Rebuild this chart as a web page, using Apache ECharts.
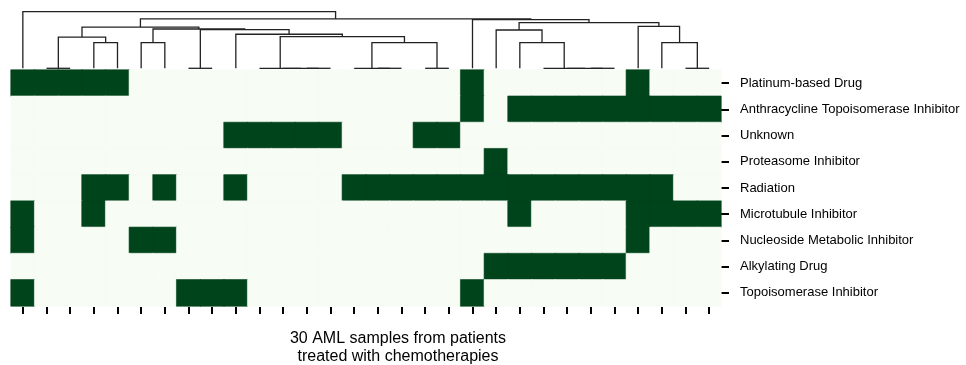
<!DOCTYPE html>
<html><head><meta charset="utf-8">
<script src="https://cdn.jsdelivr.net/npm/echarts@6/dist/echarts.min.js"></script>
<style>html,body{margin:0;padding:0;background:#fff}#c{width:966px;height:365px}</style>
</head><body><div id="c"></div>
<script>
// 30 sample columns (unlabelled in the figure)
const samples = Array.from({length: 30}, (_, i) => 'Sample ' + (i + 1));

// Treatment categories (top to bottom)
const drugs = [
  'Platinum-based Drug',
  'Anthracycline Topoisomerase Inhibitor',
  'Unknown',
  'Proteasome Inhibitor',
  'Radiation',
  'Microtubule Inhibitor',
  'Nucleoside Metabolic Inhibitor',
  'Alkylating Drug',
  'Topoisomerase Inhibitor'
];

// 1 = sample received this treatment
const platinum      = [1,1,1,1,1,0,0,0,0,0,0,0,0,0,0,0,0,0,0,1,0,0,0,0,0,0,1,0,0,0];
const anthracycline = [0,0,0,0,0,0,0,0,0,0,0,0,0,0,0,0,0,0,0,1,0,1,1,1,1,1,1,1,1,1];
const unknown       = [0,0,0,0,0,0,0,0,0,1,1,1,1,1,0,0,0,1,1,0,0,0,0,0,0,0,0,0,0,0];
const proteasome    = [0,0,0,0,0,0,0,0,0,0,0,0,0,0,0,0,0,0,0,0,1,0,0,0,0,0,0,0,0,0];
const radiation     = [0,0,0,1,1,0,1,0,0,1,0,0,0,0,1,1,1,1,1,1,1,1,1,1,1,1,1,1,0,0];
const microtubule   = [1,0,0,1,0,0,0,0,0,0,0,0,0,0,0,0,0,0,0,0,0,1,0,0,0,0,1,1,1,1];
const nucleoside    = [1,0,0,0,0,1,1,0,0,0,0,0,0,0,0,0,0,0,0,0,0,0,0,0,0,0,1,0,0,0];
const alkylating    = [0,0,0,0,0,0,0,0,0,0,0,0,0,0,0,0,0,0,0,0,1,1,1,1,1,1,0,0,0,0];
const topoisomerase = [1,0,0,0,0,0,0,1,1,1,0,0,0,0,0,0,0,0,0,1,0,0,0,0,0,0,0,0,0,0];
const treatment = [platinum, anthracycline, unknown, proteasome, radiation,
                   microtubule, nucleoside, alkylating, topoisomerase];

// Column dendrogram: [node, left child, right child, merge height]; numbers are leaf (column) indices
const linkage = [
  ['m1', 12, 13, 0], ['m2', 11, 'm1', 0], ['R', 10, 'm2', 0],
  ['M', 1, 2, 0], ['P', 7, 8, 0],
  ['w1', 15, 16, 0], ['W', 14, 'w1', 0], ['X', 17, 18, 0],
  ['h1', 24, 25, 0], ['h2', 23, 'h1', 0], ['H', 22, 'h2', 0],
  ['J', 28, 29, 0],
  ['N', 3, 4, 1.0], ['O', 5, 6, 1.0], ['S', 'W', 'X', 1.0],
  ['F', 21, 'H', 1.0], ['I', 27, 'J', 1.0],
  ['K', 'M', 'N', 1.22], ['Q', 'R', 'S', 1.234], ['T', 9, 'Q', 1.33],
  ['U', 'P', 'T', 1.51], ['L', 'O', 'U', 1.535], ['A', 'K', 'L', 1.61],
  ['D', 20, 'F', 1.496], ['E', 26, 'I', 1.64], ['C', 'D', 'E', 1.78],
  ['B', 19, 'C', 1.898], ['N1', 'A', 'B', 1.926], ['root', 0, 'N1', 2.21]
];

const DARK = '#00441b', LIGHT = '#f7fcf5';
const FONT = '"Liberation Sans", Arial, Helvetica, sans-serif';

const cells = [];
treatment.forEach((row, r) => row.forEach((v, c) => {
  const col = v ? DARK : LIGHT;
  cells.push({value: [c, r, v], itemStyle: {color: col, borderColor: col, borderWidth: 0.6}});
}));

const pos = {};
const nodeXY = k => typeof k === 'number' ? [k, 0] : pos[k];
const segs = [];
linkage.forEach(([name, l, r, h]) => {
  const a = nodeXY(l), b = nodeXY(r);
  segs.push({coords: [[a[0], a[1]], [a[0], h], [b[0], h], [b[0], b[1]]]});
  pos[name] = [(a[0] + b[0]) / 2, h];
});
const rootH = linkage[linkage.length - 1][3];

const chart = echarts.init(document.getElementById('c'), null, {renderer: 'canvas'});
chart.setOption({
  animation: false,
  backgroundColor: '#fff',
  grid: [
    {left: 11, right: 245, top: 70, bottom: 59},
    {left: 11, right: 245, top: 11.7, bottom: 296.7}
  ],
  xAxis: [
    {type: 'category', gridIndex: 0, data: samples, position: 'bottom', offset: 1,
     axisLine: {show: false}, splitLine: {show: false}, axisLabel: {show: false},
     axisTick: {show: true, interval: 0, alignWithLabel: true, length: 7,
                lineStyle: {color: '#000', width: 2}}},
    {type: 'value', gridIndex: 1, min: -0.5, max: 29.5, show: false}
  ],
  yAxis: [
    {type: 'category', gridIndex: 0, data: drugs, inverse: true, position: 'right',
     axisLine: {show: false}, splitLine: {show: false},
     axisTick: {show: true, interval: 0, alignWithLabel: true, length: 8,
                lineStyle: {color: '#000', width: 2}},
     axisLabel: {interval: 0, margin: 19, fontSize: 13, color: '#000', fontFamily: FONT}},
    {type: 'value', gridIndex: 1, min: 0, max: rootH, show: false}
  ],
  series: [
    {type: 'heatmap', xAxisIndex: 0, yAxisIndex: 0, data: cells, silent: true},
    {type: 'lines', coordinateSystem: 'cartesian2d', xAxisIndex: 1, yAxisIndex: 1,
     polyline: true, silent: true, data: segs,
     lineStyle: {color: '#222', width: 1.3, opacity: 1}}
  ],
  graphic: [{
    type: 'text', x: 398, y: 329.5,
    style: {text: '30 AML samples from patients\ntreated with chemotherapies',
            align: 'center', verticalAlign: 'top',
            font: '16px ' + FONT, lineHeight: 18, fill: '#000'}
  }]
});
</script></body></html>
